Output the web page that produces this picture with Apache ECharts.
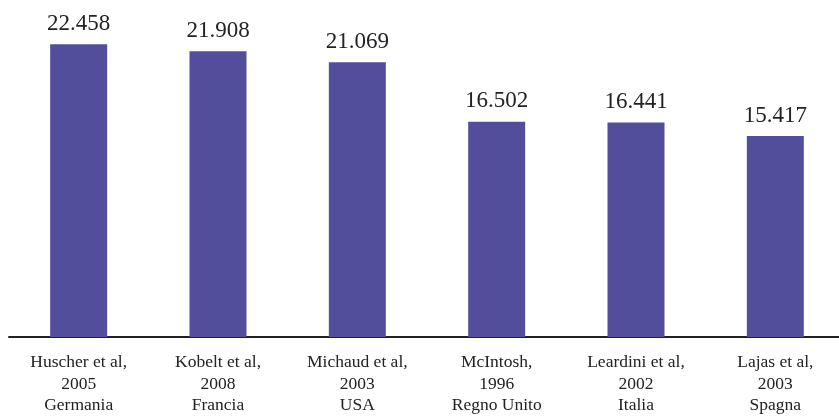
<!DOCTYPE html>
<html>
<head>
<meta charset="utf-8">
<script src="https://cdn.jsdelivr.net/npm/echarts@6/dist/echarts.min.js"></script>
<style>html,body{margin:0;padding:0;background:#fff;}#c{width:839px;height:417px;}</style>
</head>
<body>
<div id="c"></div>
<script>
const categories = [
  "Huscher et al,\n2005\nGermania",
  "Kobelt et al,\n2008\nFrancia",
  "Michaud et al,\n2003\nUSA",
  "McIntosh,\n1996\nRegno Unito",
  "Leardini et al,\n2002\nItalia",
  "Lajas et al,\n2003\nSpagna"
];
const values = [22.458, 21.908, 21.069, 16.502, 16.441, 15.417];

const chart = echarts.init(document.getElementById('c'), null, {renderer: 'canvas'});
const font = '"Liberation Serif", "DejaVu Serif", serif';
chart.setOption({
  animation: false,
  backgroundColor: '#ffffff',
  grid: {left: 9, right: -6, top: 11, bottom: 80, containLabel: false, outerBoundsMode: 'none'},
  xAxis: {
    type: 'category',
    data: categories,
    axisLine: {show: true, lineStyle: {color: '#222', width: 2}},
    axisTick: {show: false},
    axisLabel: {
      color: '#222', fontFamily: font, fontSize: 17.5, lineHeight: 21.5, margin: 15, interval: 0
    }
  },
  yAxis: {
    type: 'value', min: 0, max: 25,
    show: false,
    splitLine: {show: false}
  },
  series: [{
    type: 'bar',
    data: values,
    barWidth: 57,
    itemStyle: {color: '#524e9c'},
    label: {
      show: true, position: 'top', distance: 9,
      color: '#222', fontFamily: font, fontSize: 23,
      formatter: p => p.value.toFixed(3)
    }
  }]
});
</script>
</body>
</html>
